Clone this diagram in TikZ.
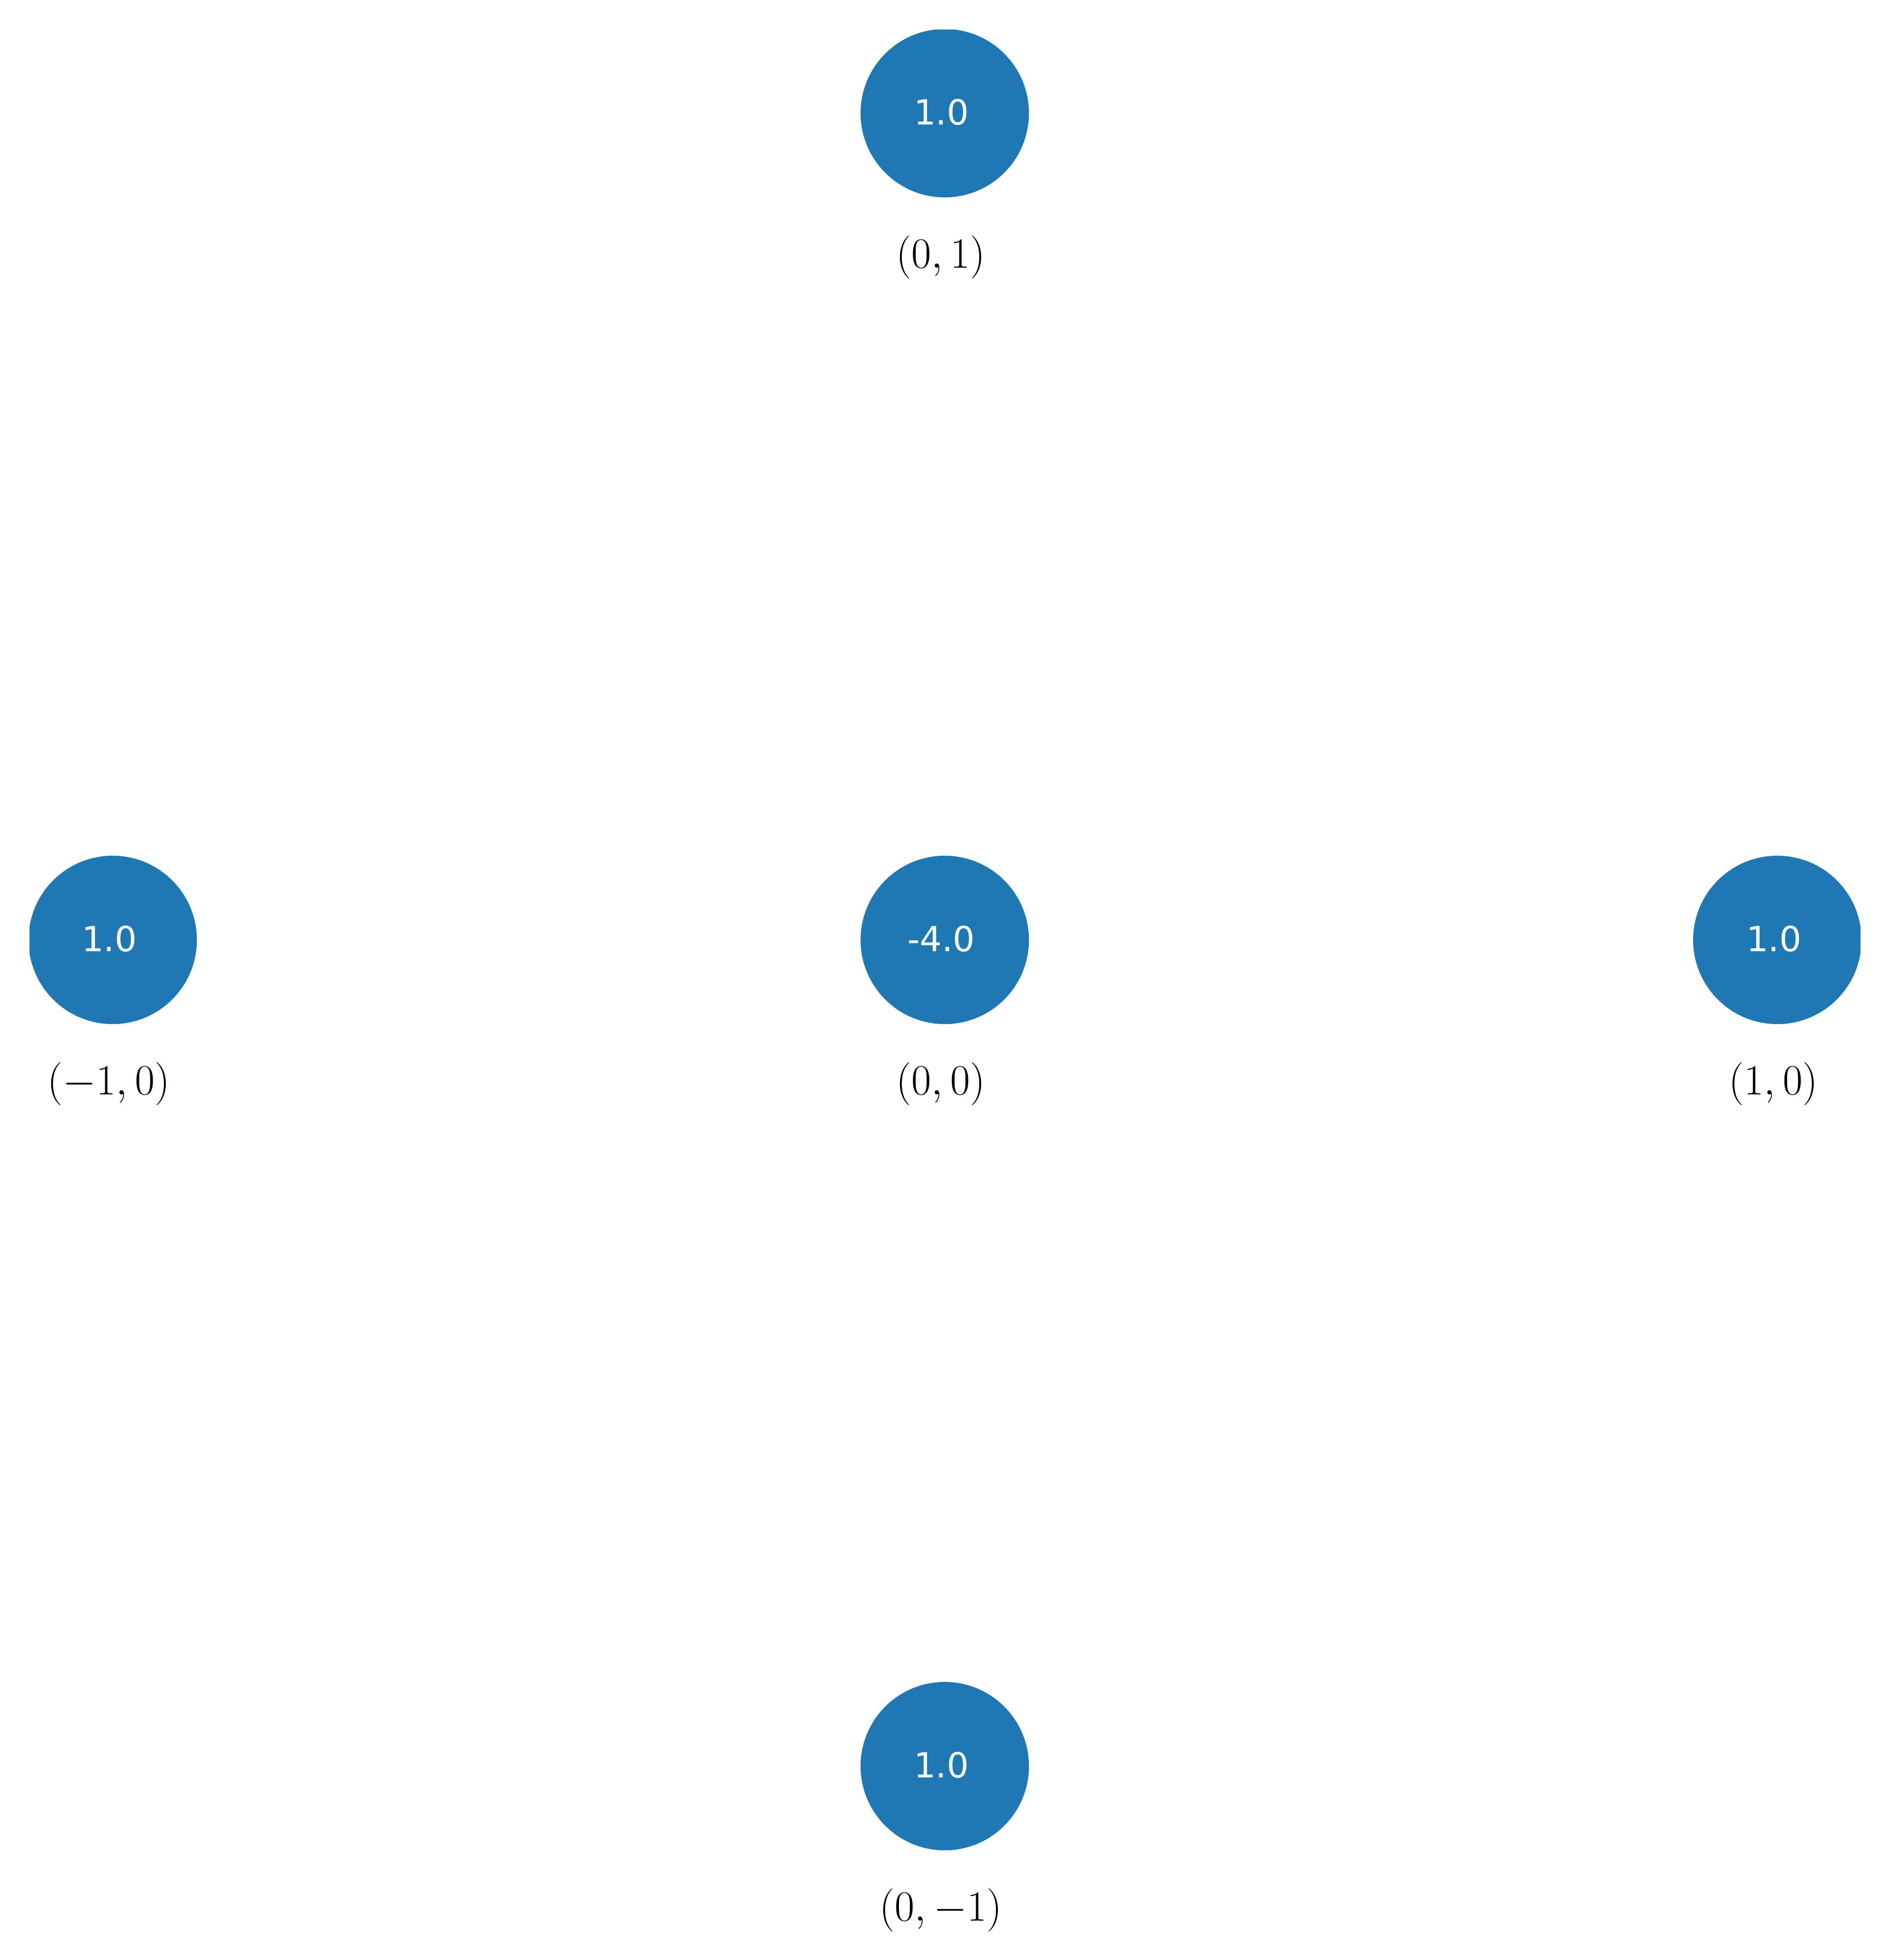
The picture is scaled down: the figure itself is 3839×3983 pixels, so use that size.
\documentclass[tikz,border=0pt]{standalone}
\usepackage{fontspec}
\newfontfamily\nodefont{DejaVu Sans}
\definecolor{tabblue}{HTML}{1F77B4}
\begin{document}
\begin{tikzpicture}[x=0.01cm,y=-0.01cm,
  vertex/.style={circle,fill=tabblue,minimum size=3.42cm,inner sep=0pt,text=white,
    font=\nodefont\fontsize{20}{24}\selectfont,
    execute at begin node={\raisebox{0.05cm}{\hspace*{-0.14cm}}}},
  coordlabel/.style={inner sep=0pt,font=\fontsize{24}{28}\selectfont}]
\useasboundingbox (0,0) rectangle (3839,3983);
\begin{scope}
\clip (60,60) rectangle (3781,3759);
\node[vertex] (t) at (1920,230) {\raisebox{0.05cm}{1.0}};
\node[vertex] (l) at (229,1910) {\raisebox{0.05cm}{1.0}};
\node[vertex] (c) at (1920,1910) {\raisebox{0.05cm}{-4.0}};
\node[vertex] (r) at (3612,1910) {\raisebox{0.05cm}{1.0}};
\node[vertex] (b) at (1920,3589) {\raisebox{0.05cm}{1.0}};
\end{scope}
\node[coordlabel] (tl) at (1912,523) {$(0,1)$};
\node[coordlabel] (ll) at (221,2203) {$(-1,0)$};
\node[coordlabel] (cl) at (1912,2203) {$(0,0)$};
\node[coordlabel] (rl) at (3604,2203) {$(1,0)$};
\node[coordlabel] (bl) at (1912,3882) {$(0,-1)$};
\end{tikzpicture}
\end{document}
